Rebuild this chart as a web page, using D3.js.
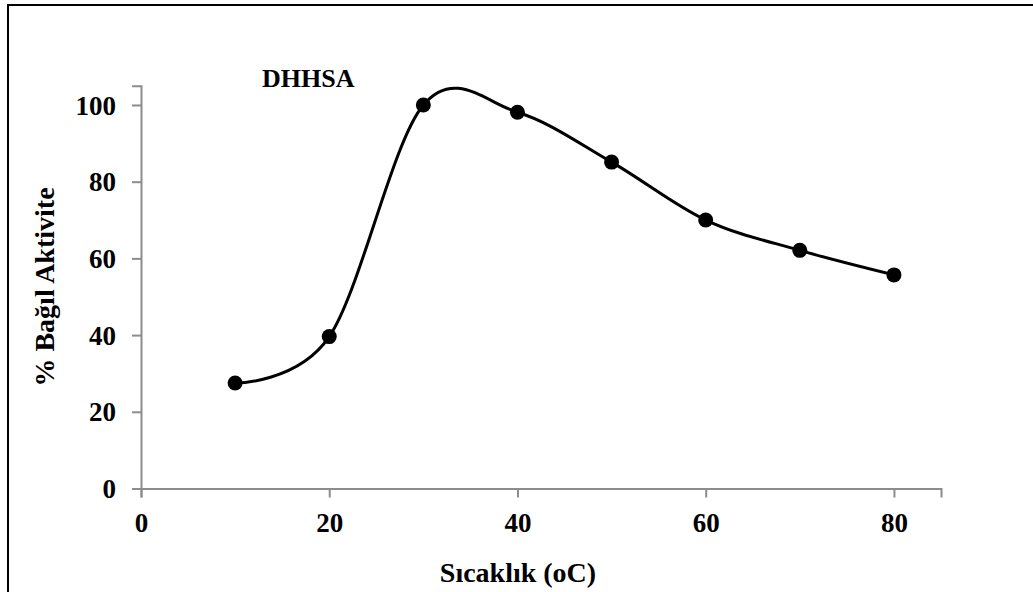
<!DOCTYPE html>
<html>
<head>
<meta charset="utf-8">
<script src="https://cdn.jsdelivr.net/npm/d3@7"></script>
<style>
  html, body { margin: 0; padding: 0; background: #fff; }
  svg { display: block; }
</style>
</head>
<body>
<svg id="chart" width="1033" height="592"></svg>
<script>
const temperatures = [10, 20, 30, 40, 50, 60, 70, 80];
const activity = [27.5, 39.6, 100, 98.1, 85.1, 70, 62.1, 55.7];
const xTicks = [0, 20, 40, 60, 80];
const yTicks = [0, 20, 40, 60, 80, 100];
const chartTitle = "DHHSA";
const xLabel = "Sıcaklık (oC)";
const yLabel = "% Bağıl Aktivite";

const FONT = "'Liberation Serif', 'Times New Roman', serif";

const svg = d3.select("#chart");

// outer chart frame (continues beyond the visible window on right/bottom)
svg.append("rect")
  .attr("x", 8).attr("y", 5)
  .attr("width", 1100).attr("height", 700)
  .attr("fill", "none").attr("stroke", "#000").attr("stroke-width", 2);

const x = d3.scaleLinear().domain([0, 85]).range([141, 941]);
const y = d3.scaleLinear().domain([0, 105]).range([488.5, 85.8]);

const axisColor = "#8c8c8c";

function styleText(sel, size) {
  sel.attr("font-family", FONT).attr("font-weight", "bold").attr("font-size", size).attr("fill", "#000");
}

// X axis
const gx = svg.append("g").attr("transform", `translate(0,${y(0)})`)
  .call(d3.axisBottom(x).tickValues(xTicks).tickSize(9).tickPadding(15).tickFormat(d3.format("d")));
gx.attr("font-family", null);
gx.select(".domain").attr("stroke", axisColor).attr("stroke-width", 2);
gx.selectAll(".tick line").attr("stroke", axisColor).attr("stroke-width", 2);
gx.selectAll(".tick text").call(styleText, 27).attr("dy", "0.72em");

// Y axis
const gy = svg.append("g").attr("transform", `translate(${x(0)},0)`)
  .call(d3.axisLeft(y).tickValues(yTicks).tickSize(9).tickPadding(16).tickFormat(d3.format("d")));
gy.attr("font-family", null);
gy.select(".domain").attr("stroke", axisColor).attr("stroke-width", 2);
gy.selectAll(".tick line").attr("stroke", axisColor).attr("stroke-width", 2);
gy.selectAll(".tick text").call(styleText, 27).attr("dy", "0.34em");

// smoothed line
const line = d3.line()
  .x((d, i) => x(temperatures[i]))
  .y(d => y(d))
  .curve(d3.curveCardinal.tension(0));

svg.append("path")
  .datum(activity)
  .attr("d", line)
  .attr("fill", "none")
  .attr("stroke", "#000")
  .attr("stroke-width", 3);

// markers
svg.append("g").selectAll("circle")
  .data(activity)
  .join("circle")
  .attr("cx", (d, i) => x(temperatures[i]))
  .attr("cy", d => y(d))
  .attr("r", 7.5)
  .attr("fill", "#000");

// title
svg.append("text")
  .attr("x", 262).attr("y", 86.5)
  .call(styleText, 26)
  .text(chartTitle);

// x label
svg.append("text")
  .attr("x", 518).attr("y", 582)
  .attr("text-anchor", "middle")
  .call(styleText, 28)
  .text(xLabel);

// y label
svg.append("text")
  .attr("transform", `translate(54,287) rotate(-90)`)
  .attr("text-anchor", "middle")
  .call(styleText, 28)
  .text(yLabel);
</script>
</body>
</html>
